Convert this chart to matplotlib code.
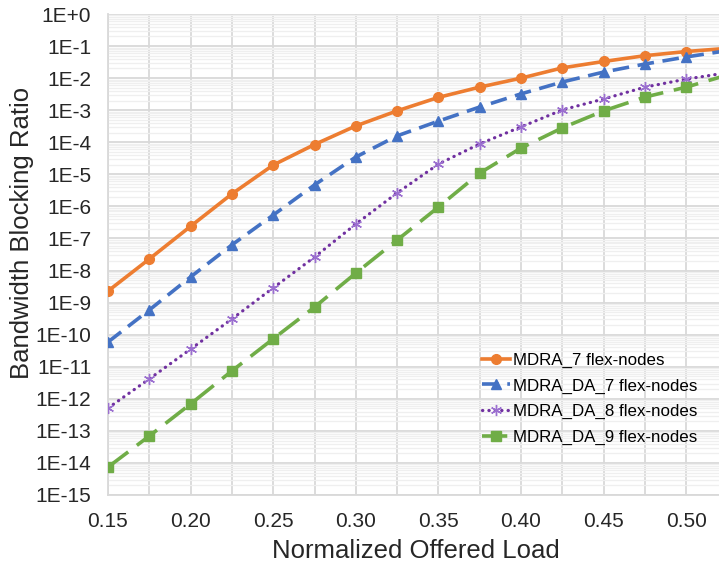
import matplotlib
matplotlib.use("Agg")
import matplotlib.pyplot as plt
import numpy as np
from matplotlib.ticker import FixedLocator, FuncFormatter, LogLocator, NullFormatter

plt.rcParams['font.family'] = ['Liberation Sans', 'DejaVu Sans']

load = [0.15, 0.175, 0.20, 0.225, 0.25, 0.275, 0.30, 0.325, 0.35, 0.375,
        0.40, 0.425, 0.45, 0.475, 0.50, 0.525]

# log10 of bandwidth blocking ratio
mdra_7 = [-8.64, -7.64, -6.62, -5.61, -4.71, -4.07, -3.49, -3.02, -2.60, -2.28,
          -2.00, -1.68, -1.48, -1.30, -1.17, -1.07]
mdra_da_7 = [-10.23, -9.23, -8.20, -7.20, -6.27, -5.33, -4.46, -3.80, -3.34, -2.90,
             -2.49, -2.12, -1.81, -1.56, -1.34, -1.14]
mdra_da_8 = [-12.29, -11.38, -10.45, -9.51, -8.54, -7.58, -6.55, -5.58, -4.68, -4.05,
             -3.52, -2.99, -2.65, -2.28, -2.03, -1.83]
mdra_da_9 = [-14.13, -13.16, -12.16, -11.13, -10.13, -9.14, -8.08, -7.05, -6.02, -4.96,
             -4.18, -3.55, -3.02, -2.59, -2.28, -1.90]

labels = ["MDRA_7 flex-nodes", "MDRA_DA_7 flex-nodes",
          "MDRA_DA_8 flex-nodes", "MDRA_DA_9 flex-nodes"]
x_ticks = [0.15, 0.20, 0.25, 0.30, 0.35, 0.40, 0.45, 0.50]

fig = plt.figure(figsize=(7.19, 5.67), dpi=100)
ax = fig.add_axes([108/719, 1-495/567, 1-108/719, (495-14)/567])

def pw(v):
    return [10.0**a for a in v]

ax.plot(load, pw(mdra_7), color='#ED7D31', lw=2.6, ls='-', marker='o', ms=7,
        label=labels[0], zorder=5)
ax.plot(load, pw(mdra_da_7), color='#4472C4', lw=2.6, ls=(0, (4.6, 2.4)), marker='^', ms=7,
        label=labels[1], zorder=5)
ax.plot(load, pw(mdra_da_8), color='#7030A0', lw=2.3, ls=(0, (0.1, 1.9)), dash_capstyle='round',
        marker=(6, 2, 0), ms=8, mew=1.0, mec='#9B6FD0', label=labels[2], zorder=5)
ax.plot(load, pw(mdra_da_9), color='#70AD47', lw=2.6, ls=(0, (7.0, 3.0)), marker='s', ms=6.5,
        label=labels[3], zorder=5)

ax.set_yscale('log')
ax.set_ylim(1e-15, 1.0)
ax.set_xlim(0.15, 0.5198)

ax.yaxis.set_major_locator(FixedLocator([10.0**k for k in range(-15, 1)]))
ax.yaxis.set_major_formatter(FuncFormatter(
    lambda v, p: "1E+0" if round(np.log10(v)) == 0 else "1E%d" % round(np.log10(v))))
ax.yaxis.set_minor_locator(LogLocator(base=10, subs=np.arange(2, 10), numticks=100))
ax.yaxis.set_minor_formatter(NullFormatter())

ax.xaxis.set_major_locator(FixedLocator(x_ticks))
ax.xaxis.set_major_formatter(FuncFormatter(lambda v, p: "%.2f" % v))
ax.xaxis.set_minor_locator(FixedLocator(np.arange(0.175, 0.53, 0.05)))

ax.grid(True, which='major', color='#d9d9d9', lw=1.3)
ax.grid(True, which='minor', axis='x', color='#d9d9d9', lw=1.3)
ax.grid(True, which='minor', axis='y', color='#efefef', lw=0.9)
ax.set_axisbelow(True)

ax.tick_params(axis='both', which='both', length=0, labelsize=15)
ax.tick_params(axis='y', pad=12)
ax.tick_params(axis='x', pad=12)
for lbl in ax.get_xticklabels() + ax.get_yticklabels():
    lbl.set_color('#262626')

for s in ['top', 'right']:
    ax.spines[s].set_visible(False)
for s in ['left', 'bottom']:
    ax.spines[s].set_color('#d9d9d9')
    ax.spines[s].set_linewidth(1.3)

ax.set_xlabel("Normalized Offered Load", fontsize=18.5, color='#262626', va='center')
ax.set_ylabel("Bandwidth Blocking Ratio", fontsize=18.5, color='#262626', va='center')
ax.xaxis.set_label_coords(0.504, -0.117)
ax.yaxis.set_label_coords(-0.1408, 0.545)

leg = ax.legend(loc='upper left', bbox_to_anchor=((475-108)/611, 1-(346-14)/481),
                frameon=False, fontsize=12.2, handlelength=1.65, handletextpad=0.2,
                labelspacing=0.62, borderaxespad=0)

fig.savefig('out.png', dpi=100)
